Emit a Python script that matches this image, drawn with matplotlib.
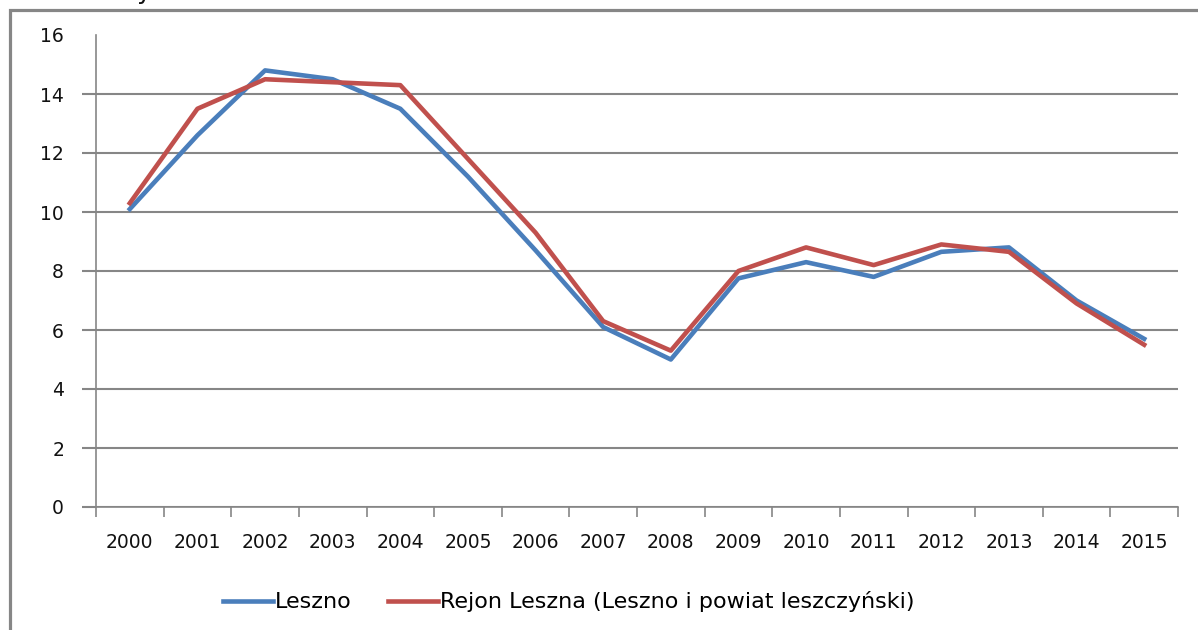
import matplotlib.pyplot as plt
from matplotlib.lines import Line2D

years = [str(y) for y in range(2000, 2016)]
leszno = [10.1, 12.6, 14.8, 14.5, 13.5, 11.2, 8.7, 6.1, 5.0, 7.75, 8.3, 7.8, 8.65, 8.8, 7.0, 5.7]
rejon = [10.3, 13.5, 14.5, 14.4, 14.3, 11.8, 9.3, 6.3, 5.3, 8.0, 8.8, 8.2, 8.9, 8.65, 6.9, 5.5]
y_ticks = list(range(0, 17, 2))

BLUE = "#4a7ebb"
RED = "#c0504d"
GREY = "#868686"

plt.rcParams["font.family"] = ["DejaVu Sans"]

fig = plt.figure(figsize=(11.98, 6.3), dpi=100)
ax = fig.add_axes([96 / 1198, 123 / 630, (1178 - 96) / 1198, (507 - 35) / 630])

x = list(range(len(years)))
ax.plot(x, leszno, color=BLUE, lw=3.3, label="Leszno")
ax.plot(x, rejon, color=RED, lw=3.3, label="Rejon Leszna (Leszno i powiat leszczyński)")

ax.set_xlim(-0.5, len(years) - 0.5)
ax.set_ylim(0, 16)

# category labels at centres, tick marks at boundaries (Excel style)
ax.set_xticks(x)
ax.set_xticklabels(years, fontsize=13.5, color="#111111")
ax.tick_params(axis="x", which="major", length=0, pad=19)
ax.set_xticks([i - 0.5 for i in range(len(years) + 1)], minor=True)
ax.tick_params(axis="x", which="minor", length=7, width=1.2, color=GREY, direction="out")

ax.set_yticks(y_ticks)
ax.set_yticklabels([str(v) for v in y_ticks], fontsize=13.5, color="#111111")
ax.tick_params(axis="y", length=10, width=1.5, color=GREY, pad=13)
ax.grid(axis="y", color=GREY, lw=1.5)
ax.set_axisbelow(True)
last = ax.yaxis.get_major_ticks()[-1]
last.tick1line.set_visible(False)
last.gridline.set_visible(False)

for side in ("top", "right"):
    ax.spines[side].set_visible(False)
for side in ("left", "bottom"):
    ax.spines[side].set_color(GREY)
    ax.spines[side].set_linewidth(1.2)

fig.legend(loc="center left", bbox_to_anchor=(223 / 1198, 28 / 630), ncol=2, frameon=False,
           fontsize=16, handlelength=2.25, handletextpad=0.1, columnspacing=1.6,
           borderpad=0, borderaxespad=0)

# outer chart border (top and left edges visible)
fig.add_artist(Line2D([10 / 1198, 10 / 1198, 1.0], [0, 620 / 630, 620 / 630],
                      transform=fig.transFigure, color=GREY, lw=2.3,
                      solid_capstyle="butt", solid_joinstyle="miter"))
# clipped title descender at the very top
fig.text(136 / 1198, 631 / 630, "y", fontsize=18, color="#111111", va="baseline")

fig.savefig("out.png", dpi=100)
